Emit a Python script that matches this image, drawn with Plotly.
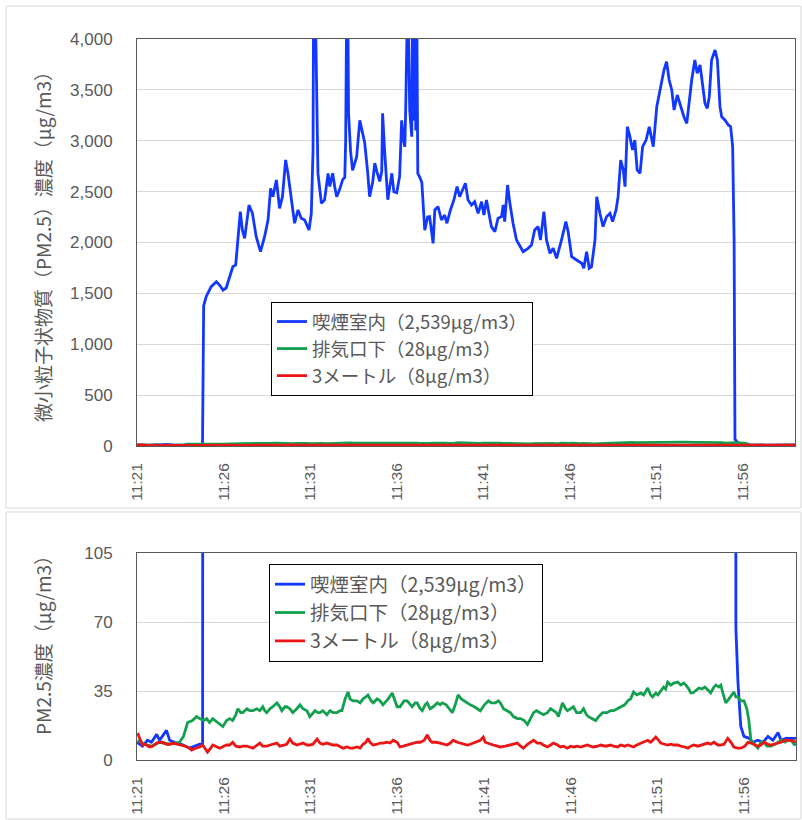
import plotly.graph_objects as go
import pandas as pd

# ---------------- data ----------------
START_TIME = "2024-01-01 11:21:00"
END_TIME = "2024-01-01 11:59:00"

SERIES_NAMES = ["喫煙室内（2,539μg/m3）", "排気口下（28μg/m3）", "3メートル（8μg/m3）"]
SERIES_COLORS = ["#1238ff", "#12a04e", "#ec1515"]

TOP_Y_TITLE = "微小粒子状物質（PM2.5）濃度（μg/m3）"
BOTTOM_Y_TITLE = "PM2.5濃度（μg/m3）"

TOP_Y_TICKS = [0, 500, 1000, 1500, 2000, 2500, 3000, 3500, 4000]
BOTTOM_Y_TICKS = [0, 35, 70, 105]

# seconds after 11:21:00
smoking_room_sec = [0, 19, 36, 50, 68, 78, 102, 113, 130, 154, 182, 217, 227,
                    231, 240, 257, 275, 286, 298, 309, 321, 332, 342, 350, 358, 365, 373, 388, 400, 413, 428, 442, 454,
                    463, 471, 483, 494, 504, 515, 523, 535, 546, 558, 569, 581, 596, 604, 610, 612, 617, 627, 639, 650, 662,
                    668, 678, 685, 692, 702, 713, 720, 723, 727, 730, 733, 740, 747, 754, 761, 772, 779, 789, 799, 806,
                    817, 824, 831, 841, 848, 851, 858, 869, 876, 883, 890, 900, 910, 917, 924, 928, 931, 935, 938, 945,
                    952, 955, 959, 962, 966, 969, 973, 980, 987, 997, 1007,
                    1014, 1026, 1032, 1043, 1055, 1066, 1074, 1086, 1098, 1109, 1118, 1130, 1138, 1147, 1159, 1170, 1182,
                    1194, 1202, 1211, 1220, 1228, 1240, 1251, 1263, 1269, 1274, 1284, 1292, 1303, 1315, 1327, 1338, 1355,
                    1367, 1378, 1390, 1398, 1410, 1419, 1431, 1442, 1454, 1471, 1486, 1494, 1506, 1523, 1541, 1548, 1558,
                    1567, 1575, 1587, 1593, 1604, 1615, 1627, 1639, 1648, 1660, 1667, 1676, 1685, 1691, 1699, 1708, 1717,
                    1725, 1733, 1743, 1752, 1764, 1775, 1789, 1801, 1810, 1818, 1826, 1835, 1844, 1853, 1861, 1872, 1884,
                    1895, 1905, 1914, 1922, 1933, 1941, 1951, 1960, 1968, 1976, 1983, 1991, 2003, 2011, 2020, 2026, 2037,
                    2049, 2057, 2064, 2066, 2069, 2072,
                    2079, 2089, 2100, 2117, 2131, 2148, 2166, 2183, 2200, 2218, 2228, 2245, 2263, 2280]
smoking_room_val = [9, 7, 10, 9, 13, 10, 15, 10, 9, 8, 6, 8, 8,
                    1380, 1470, 1566, 1615, 1582, 1533, 1553, 1664, 1762, 1779, 2025, 2303, 2123, 2041, 2368, 2287, 2057, 1910, 2057, 2221,
                    2533, 2450, 2614, 2336, 2450, 2811, 2680, 2418, 2189, 2320, 2238, 2221, 2123, 2287, 2909, 4500, 4500, 2680, 2385, 2418, 2680,
                    2550, 2680, 2550, 2450, 2520, 2620, 2640, 3000, 4500, 4500, 3270, 2900, 2710, 2780, 2840, 3200, 3100, 2980, 2700, 2450,
                    2600, 2780, 2700, 2600, 2700, 3270, 2900, 2420, 2550, 2680, 2500, 2490, 2650, 3200, 3000, 2940, 3300, 4500, 4500, 3300,
                    3040, 4500, 3200, 4500, 3100, 4500, 2680, 2640, 2590, 2120, 2250,
                    2254, 1992, 2320, 2352, 2221, 2270, 2189, 2320, 2418, 2549, 2450, 2533, 2582, 2418, 2369, 2401, 2287,
                    2401, 2270, 2418, 2287, 2156, 2106, 2238, 2254, 2369, 2205, 2565, 2385, 2189, 2025, 1959, 1910, 1943,
                    1975, 2123, 2156, 2025, 2303, 2025, 1894, 1943, 1845, 2025, 2205, 2106, 1861, 1828, 1796, 1747, 1910,
                    1747, 1763, 2025, 2450, 2287, 2156, 2254, 2287, 2205, 2320, 2450, 2811, 2713, 2549, 3138, 3040, 2909,
                    3007, 2713, 2680, 2942, 3007, 3138, 2942, 3335, 3466, 3564, 3695, 3777, 3597, 3499, 3302, 3450, 3335,
                    3236, 3171, 3400, 3597, 3794, 3663, 3745, 3531, 3368, 3319, 3433, 3794, 3892, 3794, 3335, 3236, 3204,
                    3155, 3138, 2942, 2516, 2025, 67,
                    40, 17, 12, 11, 9, 10, 9, 12, 10, 14, 10, 11, 11, 11]

exhaust_sec = [2, 26, 50, 78, 113, 147, 161, 175, 192, 206, 217, 231, 241, 251, 262, 279, 297, 310, 321, 331,
               342, 349, 359, 366, 380, 390, 401, 414, 425, 435, 442, 449, 460, 470, 484, 494, 501, 512, 518, 529,
               539, 553, 564, 574, 588, 598, 609, 616, 626, 633, 643, 657, 668, 678, 692, 702, 709, 720, 730, 737,
               747, 761, 772, 782, 792, 799, 810, 817, 831, 841, 851, 858, 869, 883, 893, 900, 910, 924, 935, 945,
               952, 962, 969, 980, 987, 997, 1004, 1014, 1025, 1039, 1049, 1056, 1070, 1080, 1091, 1101, 1111, 1122, 1132, 1143,
               1153, 1167, 1177, 1188, 1202, 1216, 1226, 1240, 1250, 1257, 1268, 1281, 1292, 1302, 1316, 1327, 1340, 1351, 1361, 1372,
               1382, 1396, 1406, 1420, 1431, 1441, 1451, 1458, 1465, 1472, 1483, 1489, 1500, 1510, 1521, 1535, 1545, 1555, 1562, 1576,
               1587, 1597, 1611, 1625, 1639, 1649, 1663, 1673, 1687, 1698, 1708, 1718, 1729, 1743, 1753, 1767, 1777, 1784, 1795, 1802,
               1812, 1822, 1829, 1836, 1847, 1857, 1871, 1881, 1892, 1899, 1909, 1916, 1923, 1933, 1944, 1954, 1965, 1975, 1985, 1996,
               2003, 2013, 2020, 2027, 2037, 2048, 2058, 2065, 2072, 2079, 2089, 2100, 2110, 2117, 2124, 2135, 2148, 2159, 2169, 2180,
               2193, 2207, 2218, 2228, 2242, 2252, 2263, 2273, 2280]
exhaust_val = [10, 8, 7, 9, 8, 9, 12, 19, 20, 22, 21, 20, 21, 19, 21, 19, 17, 20, 21, 20,
               23, 26, 24, 24, 26, 25, 25, 26, 25, 27, 25, 24, 26, 27, 29, 27, 25, 27, 27, 26,
               24, 26, 28, 26, 25, 22, 24, 25, 24, 24, 25, 23, 25, 24, 24, 25, 25, 31, 34.5, 31,
               30, 30, 29, 31, 32, 33, 30, 29, 31, 30, 28, 29, 31, 34, 30, 27, 27, 30, 30, 28,
               27, 29, 29, 26, 25, 28, 29, 26, 27, 29, 28, 29, 28, 26, 24, 28, 33, 31, 30, 29,
               28, 27, 26, 25, 28, 30, 29, 29, 30, 29, 26, 25, 24, 22, 21, 21, 20, 18, 21, 24,
               25, 24, 23, 24, 26, 25, 24, 22, 25, 29, 26, 25, 26, 27, 24, 24, 26, 23, 22, 21,
               20, 22, 24, 24, 25, 25, 26, 27, 28, 30, 31, 34.5, 33, 34, 33, 36.5, 33, 32, 34, 33,
               35, 37, 36, 39.5, 38, 39, 39.5, 38, 39, 38, 36, 34, 34, 35, 36.5, 36, 37, 35.5, 34, 37,
               38, 37, 38, 34, 29, 31, 33, 34.5, 32, 32, 30, 30, 26, 20, 10, 8, 6, 9, 9, 7,
               7, 8, 9, 10, 9, 10, 10, 8, 7.6]

three_m_sec = [2, 12, 19, 29, 43, 54, 68, 78, 88, 102, 113, 123, 137, 154, 168, 182, 189, 203, 217, 227,
               234, 244, 255, 262, 272, 286, 300, 310, 321, 331, 342, 355, 366, 380, 390, 401, 411, 425, 435, 449,
               460, 470, 484, 494, 505, 518, 529, 539, 553, 564, 574, 588, 598, 609, 623, 633, 643, 657, 668, 678,
               692, 702, 713, 727, 737, 747, 761, 772, 782, 792, 799, 806, 817, 831, 841, 851, 865, 876, 886, 900,
               910, 921, 935, 945, 955, 969, 980, 994, 1004, 1014, 1021, 1035, 1049, 1063, 1073, 1084, 1094, 1108, 1118, 1132,
               1143, 1153, 1164, 1177, 1188, 1198, 1205, 1212, 1222, 1233, 1247, 1257, 1274, 1292, 1302, 1316, 1327, 1337, 1351, 1361,
               1372, 1385, 1396, 1406, 1420, 1431, 1441, 1455, 1465, 1476, 1489, 1500, 1510, 1524, 1535, 1545, 1559, 1569, 1580, 1594,
               1604, 1621, 1639, 1649, 1663, 1673, 1687, 1698, 1708, 1718, 1729, 1743, 1753, 1767, 1777, 1788, 1795, 1805, 1812, 1826,
               1836, 1847, 1857, 1871, 1881, 1895, 1906, 1916, 1926, 1940, 1951, 1961, 1975, 1985, 1996, 2010, 2020, 2031, 2044, 2055,
               2065, 2079, 2089, 2103, 2114, 2124, 2135, 2148, 2159, 2169, 2183, 2193, 2204, 2218, 2228, 2239, 2252, 2263, 2280]
three_m_val = [13.7, 10, 7.6, 8, 6.6, 7, 8.6, 9, 9, 8, 8, 8.6, 8, 7.6, 7, 6, 5, 6, 6.6, 7.6,
               6, 4, 6, 7.6, 7, 6, 7, 7.6, 7.6, 9, 7, 6.6, 7, 7, 6.6, 6, 7, 8.6, 7, 7,
               7.6, 8, 8.6, 7, 7.6, 8, 10.6, 8.6, 7.6, 8, 8.6, 7.6, 7.6, 8, 10.6, 8.6, 8, 8.6, 8, 7.6,
               7.6, 7, 6, 6.6, 6, 6, 6.6, 6, 8, 9, 11, 9, 7.6, 8, 8.6, 8.6, 9, 8.6, 10, 9,
               6.6, 7, 7.6, 8, 8.6, 9, 9, 10, 12.7, 10, 9, 9, 8.6, 8, 7.6, 8.6, 10, 9, 8.6, 8,
               7.6, 8, 8.6, 9, 10, 11.6, 9, 8.6, 8, 7.6, 7, 6.6, 7, 7.6, 8, 8.6, 7, 6, 8, 9,
               10, 8.6, 8.6, 7.6, 6.6, 7.6, 8.6, 7.6, 6.6, 7, 6, 7, 6.6, 7, 6.6, 7, 7.6, 7, 6.6, 7,
               7.6, 7, 7.6, 7, 6.6, 7.6, 7, 7.6, 7, 6.6, 7.6, 8.6, 9, 10, 9, 10.6, 11.6, 10, 8.6, 8,
               7.6, 8, 7.6, 7.6, 7, 6.6, 6, 7, 7.6, 7, 7.6, 8, 8.6, 8, 9, 7.6, 7.6, 8, 11, 9,
               6.6, 6, 6, 7, 9, 8.6, 8, 7, 7.6, 9, 8, 7.6, 8, 8.6, 9, 10, 10, 10, 9]

SERIES = [(smoking_room_sec, smoking_room_val),
          (exhaust_sec, exhaust_val),
          (three_m_sec, three_m_val)]


def to_time(secs):
    return pd.Timestamp(START_TIME) + pd.to_timedelta(secs, unit="s")


W, H = 802, 820
FONT_JP = "Noto Sans CJK JP, Liberation Sans, sans-serif"
FONT_NUM = "Liberation Sans, Arial, sans-serif"
GRAY = "#595959"


def px_x(x):
    return x / W


def px_y(y):
    return 1 - y / H


fig = go.Figure()

for panel, (xa, ya, leg) in enumerate([("x", "y", "legend"), ("x2", "y2", "legend2")]):
    for (secs, vals), name, color in zip(SERIES, SERIES_NAMES, SERIES_COLORS):
        fig.add_trace(go.Scatter(
            x=to_time(secs), y=vals, name=name, mode="lines",
            line=dict(color=color, width=2.8),
            xaxis=xa, yaxis=ya, legend=leg, legendgroup=f"{panel}{name}",
            hoverinfo="skip",
        ))

xaxis_common = dict(
    type="date", range=[START_TIME, END_TIME], automargin=False,
    tick0=START_TIME, dtick=5 * 60 * 1000, tickformat="%H:%M",
    tickangle=-90, showgrid=False, zeroline=False,
    showline=True, mirror=True, linecolor=GRAY, linewidth=1,
    ticks="", ticklabelstandoff=10,
    tickfont=dict(family=FONT_NUM, size=15.5, color=GRAY),
)
yaxis_common = dict(
    automargin=False,
    showgrid=True, gridcolor="#d9d9d9", gridwidth=1, zeroline=False,
    showline=True, mirror=True, linecolor=GRAY, linewidth=1,
    ticks="", ticklabelstandoff=20,
    tickfont=dict(family=FONT_NUM, size=17, color=GRAY),
)

legend_common = dict(
    bgcolor="white", bordercolor="#000000", borderwidth=1,
    xanchor="left", yanchor="top", xref="paper", yref="paper",
    traceorder="grouped", itemwidth=30,
)

fig.update_layout(
    width=W, height=H, autosize=False,
    margin=dict(l=0, r=0, t=0, b=0, pad=0, autoexpand=False),
    paper_bgcolor="white", plot_bgcolor="white",
    showlegend=True,
    xaxis=dict(xaxis_common, domain=[px_x(137), px_x(795)], anchor="y"),
    yaxis=dict(yaxis_common, domain=[px_y(446), px_y(39)], anchor="x",
               range=[0, 4000], tickvals=TOP_Y_TICKS, tickformat=",d"),
    xaxis2=dict(xaxis_common, domain=[px_x(137), px_x(796)], anchor="y2"),
    yaxis2=dict(yaxis_common, domain=[px_y(760), px_y(553)], anchor="x2",
                range=[0, 105], tickvals=BOTTOM_Y_TICKS),
    legend=dict(legend_common, x=px_x(271), y=px_y(302), tracegroupgap=0,
                font=dict(family=FONT_JP, size=18.5, color=GRAY)),
    legend2=dict(legend_common, x=px_x(269), y=px_y(564), tracegroupgap=0,
                 font=dict(family=FONT_JP, size=19.5, color=GRAY)),
    shapes=[
        dict(type="rect", xref="paper", yref="paper", x0=px_x(6), x1=px_x(801), y0=px_y(508), y1=px_y(6),
             line=dict(color="#d9d9d9", width=1), layer="below"),
        dict(type="rect", xref="paper", yref="paper", x0=px_x(6), x1=px_x(801), y0=px_y(819), y1=px_y(512),
             line=dict(color="#d9d9d9", width=1), layer="below"),
    ],
    annotations=[
        dict(text=TOP_Y_TITLE, xref="paper", yref="paper", x=px_x(42), y=px_y(242),
             textangle=-90, showarrow=False, xanchor="center", yanchor="middle",
             font=dict(family=FONT_JP, size=19, color=GRAY)),
        dict(text=BOTTOM_Y_TITLE, xref="paper", yref="paper", x=px_x(42), y=px_y(641),
             textangle=-90, showarrow=False, xanchor="center", yanchor="middle",
             font=dict(family=FONT_JP, size=19, color=GRAY)),
    ],
)

fig.write_html("out.html")
